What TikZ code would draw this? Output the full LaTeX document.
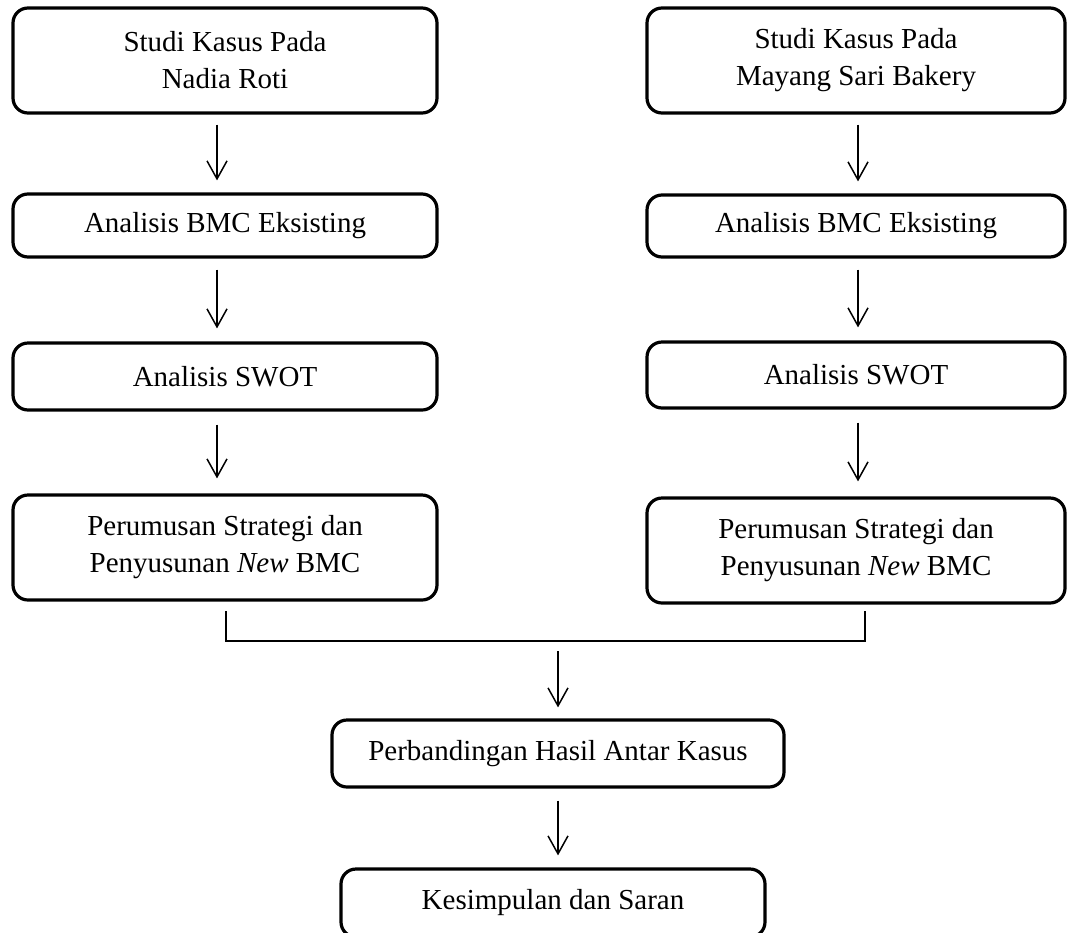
\documentclass[tikz,border=0pt]{standalone}
\usepackage{fontspec}
\setmainfont{Liberation Serif}
\usetikzlibrary{arrows.meta}
\begin{document}
\begin{tikzpicture}[x=1pt,y=-1pt,
  box/.style={draw=black,line width=3.2pt,rounded corners=15pt,align=center,
    inner sep=0pt,font=\fontsize{29}{37}\selectfont},
  arr/.style={line width=1.5pt,-{Straight Barb[length=18pt,width=20pt,line width=1.5pt]}},
  brk/.style={line width=1.5pt}]
\useasboundingbox (0,0) rectangle (1067,932);
% left column
\node[box,minimum width=424pt,minimum height=105pt] (L1) at (225,60.5) {Studi Kasus Pada\\Nadia Roti};
\node[box,minimum width=424pt,minimum height=63pt] (L2) at (225,225.5) {Analisis BMC Eksisting};
\node[box,minimum width=424pt,minimum height=67pt] (L3) at (225,376.5) {Analisis SWOT};
\node[box,minimum width=424pt,minimum height=105pt] (L4) at (225,547.5) {Perumusan Strategi dan\\Penyusunan \textit{New} BMC};
% right column
\node[box,minimum width=418pt,minimum height=105pt] (R1) at (856,60.5) {Studi Kasus Pada\\Mayang Sari Bakery};
\node[box,minimum width=418pt,minimum height=62pt] (R2) at (856,226) {Analisis BMC Eksisting};
\node[box,minimum width=418pt,minimum height=66pt] (R3) at (856,375) {Analisis SWOT};
\node[box,minimum width=418pt,minimum height=105pt] (R4) at (856,550.5) {Perumusan Strategi dan\\Penyusunan \textit{New} BMC};
% bottom
\node[box,minimum width=452pt,minimum height=67pt] (B1) at (558,753.5) {Perbandingan Hasil Antar Kasus};
\node[box,minimum width=424pt,minimum height=68pt] (B2) at (553,903) {Kesimpulan dan Saran};
% arrows left
\draw[arr] ([xshift=-8pt,yshift=-10pt]L1.south) -- ([xshift=-8pt,yshift=12pt]L2.north);
\draw[arr] ([xshift=-8pt,yshift=-11pt]L2.south) -- ([xshift=-8pt,yshift=13pt]L3.north);
\draw[arr] ([xshift=-8pt,yshift=-13pt]L3.south) -- ([xshift=-8pt,yshift=15pt]L4.north);
% arrows right
\draw[arr] ([xshift=2pt,yshift=-10pt]R1.south) -- ([xshift=2pt,yshift=12pt]R2.north);
\draw[arr] ([xshift=2pt,yshift=-11pt]R2.south) -- ([xshift=2pt,yshift=13pt]R3.north);
\draw[arr] ([xshift=2pt,yshift=-13pt]R3.south) -- ([xshift=2pt,yshift=15pt]R4.north);
% bracket
\coordinate (bl) at (226,611);
\coordinate (br) at (865,611);
\coordinate (bm) at (558,651);
\draw[brk] (bl) |- (br |- 0,641) -- (br);
\draw[arr] (bm) -- ([yshift=11pt]B1.north);
\draw[arr] ([yshift=-12pt]B1.south) -- ([xshift=5pt,yshift=12pt]B2.north);
\end{tikzpicture}
\end{document}
